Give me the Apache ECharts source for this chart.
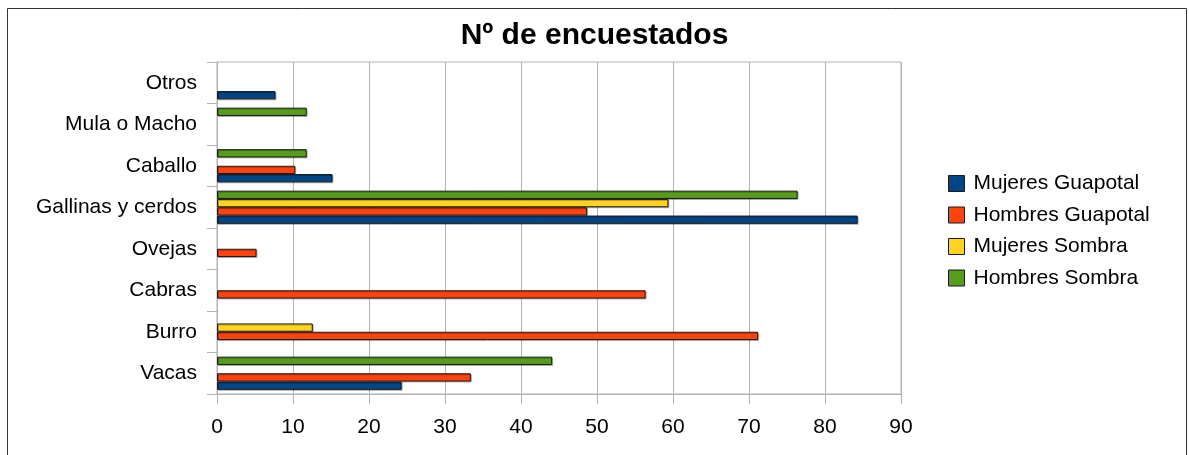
<!DOCTYPE html>
<html>
<head>
<meta charset="utf-8">
<script src="https://cdn.jsdelivr.net/npm/echarts@6/dist/echarts.min.js"></script>
<style>
html,body{margin:0;padding:0;background:#fff;}
#chart{width:1189px;height:455px;}
</style>
</head>
<body>
<div id="chart"></div>
<script>
const categories = ['Vacas', 'Burro', 'Cabras', 'Ovejas', 'Gallinas y cerdos', 'Caballo', 'Mula o Macho', 'Otros'];
const mujeresGuapotal = [24.3, null, null, null, 84.3, 15.2, null, 7.7];
const hombresGuapotal = [33.4, 71.2, 56.4, 5.2, 48.7, 10.3, null, null];
const mujeresSombra   = [null, 12.6, null, null, 59.4, null, null, null];
const hombresSombra   = [44.1, null, null, null, 76.4, 11.8, 11.8, null];
const seriesNames = ['Mujeres Guapotal', 'Hombres Guapotal', 'Mujeres Sombra', 'Hombres Sombra'];
const xTicks = [0, 10, 20, 30, 40, 50, 60, 70, 80, 90];
const colors = ['#004586', '#ff420e', '#ffd320', '#579d1c'];

const chart = echarts.init(document.getElementById('chart'), null, {renderer: 'canvas'});
const fontFamily = '"Liberation Sans", Arial, sans-serif';
const allData = [mujeresGuapotal, hombresGuapotal, mujeresSombra, hombresSombra];

// ECharts lays horizontal bar slots top-down, so add series in reverse
// to get the first series at the bottom of each group (as in the reference).
const series = seriesNames.map((name, i) => ({
  name: name,
  type: 'bar',
  data: allData[i],
  barGap: '0%',
  barCategoryGap: '20%',
  itemStyle: {
    color: colors[i],
    borderColor: '#1a1a1a',
    borderWidth: 1,
    shadowColor: 'rgba(0,0,0,0.25)',
    shadowOffsetX: 1,
    shadowOffsetY: 1,
    shadowBlur: 0
  }
})).reverse();

chart.setOption({
  animation: false,
  textStyle: {fontFamily: fontFamily},
  title: {
    text: 'Nº de encuestados',
    left: 'center',
    top: 16,
    textStyle: {fontFamily: fontFamily, fontSize: 30, fontWeight: 'bold', color: '#000'}
  },
  graphic: [{
    type: 'rect',
    shape: {x: 7.5, y: 8.5, width: 1179, height: 460},
    style: {fill: 'none', stroke: '#333', lineWidth: 1},
    silent: true,
    z: -1
  }],
  legend: {
    orient: 'vertical',
    left: 943,
    top: 168,
    itemWidth: 16,
    itemHeight: 16,
    itemGap: 10.5,
    data: seriesNames,
    icon: 'rect',
    itemStyle: {borderColor: '#1a1a1a', borderWidth: 1, shadowColor: 'transparent'},
    textStyle: {fontFamily: fontFamily, fontSize: 21, color: '#000', padding: [0, 0, 0, 4]}
  },
  grid: {
    left: 217, right: 288, top: 62, bottom: 61,
    show: true, borderColor: '#b3b3b3', borderWidth: 1
  },
  xAxis: {
    type: 'value',
    min: xTicks[0],
    max: xTicks[xTicks.length - 1],
    interval: 10,
    axisLine: {show: true, lineStyle: {color: '#b3b3b3'}},
    axisTick: {show: true, length: 10, lineStyle: {color: '#b3b3b3'}},
    splitLine: {show: true, lineStyle: {color: '#b3b3b3', width: 1}},
    axisLabel: {fontFamily: fontFamily, fontSize: 21, color: '#000', margin: 23}
  },
  yAxis: {
    type: 'category',
    data: categories,
    axisLine: {show: true, lineStyle: {color: '#b3b3b3'}},
    axisTick: {show: true, length: 10, lineStyle: {color: '#b3b3b3'}},
    splitLine: {show: false},
    axisLabel: {fontFamily: fontFamily, fontSize: 21, color: '#000', margin: 20}
  },
  series: series
});
</script>
</body>
</html>
